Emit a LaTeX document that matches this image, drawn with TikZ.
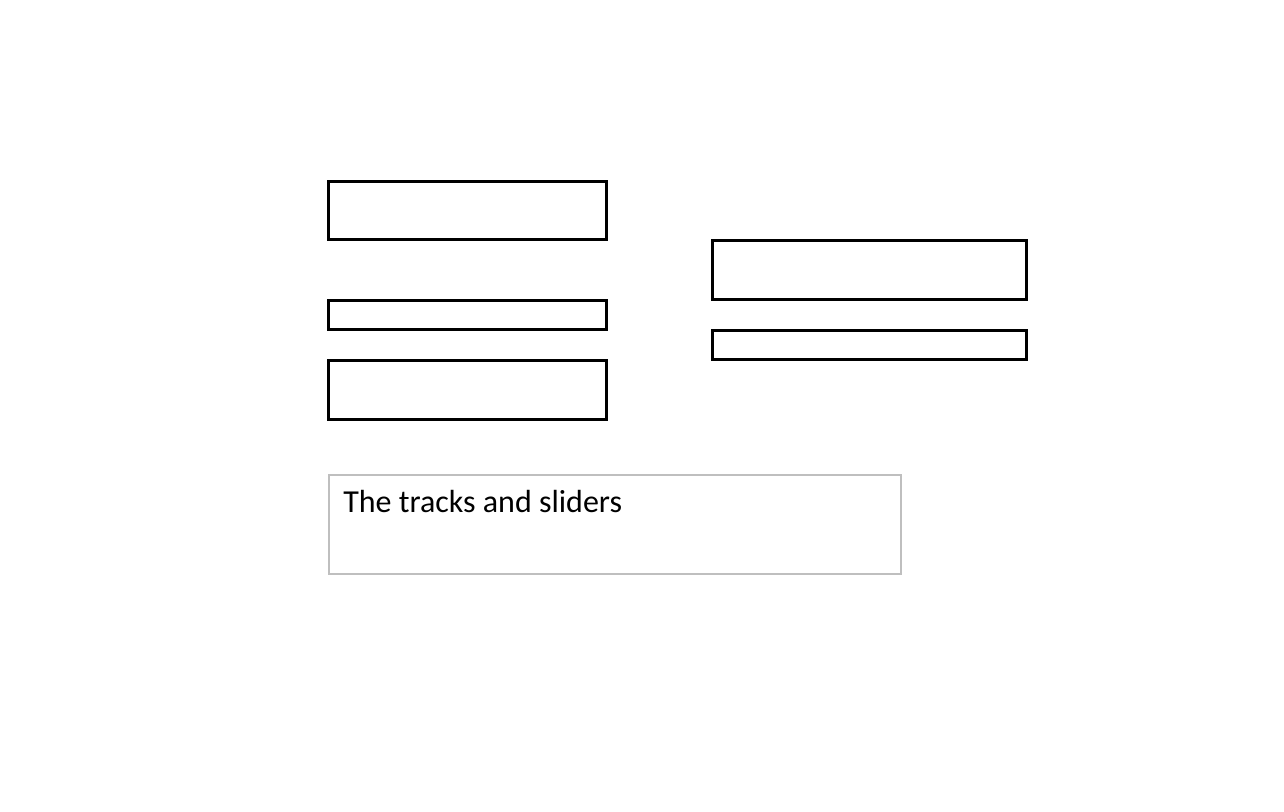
\documentclass[tikz,border=0pt]{standalone}
\usepackage{fontspec}
\setmainfont{Carlito}
\begin{document}
\begin{tikzpicture}[x=0.75pt,y=-0.75pt,
  slot/.style={draw=black,line width=2.25pt,inner sep=0pt},
  caption/.style={draw=gray!50,line width=1.5pt}]
\useasboundingbox (0,0) rectangle (1284,811);
\draw[slot] (328,181) rectangle (606.5,239.5) coordinate (b1);
\draw[slot] (328,300.5) rectangle (606.5,329.5) coordinate (b2);
\draw[slot] (328,360.5) rectangle (606.5,419.5) coordinate (b3);
\draw[slot] (712.5,240.5) rectangle (1026.5,299.5) coordinate (b4);
\draw[slot] (712.5,330.5) rectangle (1026.5,359.5) coordinate (b5);
\draw[caption] (329,475) rectangle (900.5,573.5);
\node[anchor=base west,inner sep=0pt,font=\fontsize{24pt}{28pt}\selectfont] (cap) at (343,512) {The tracks and sliders};
\end{tikzpicture}
\end{document}
